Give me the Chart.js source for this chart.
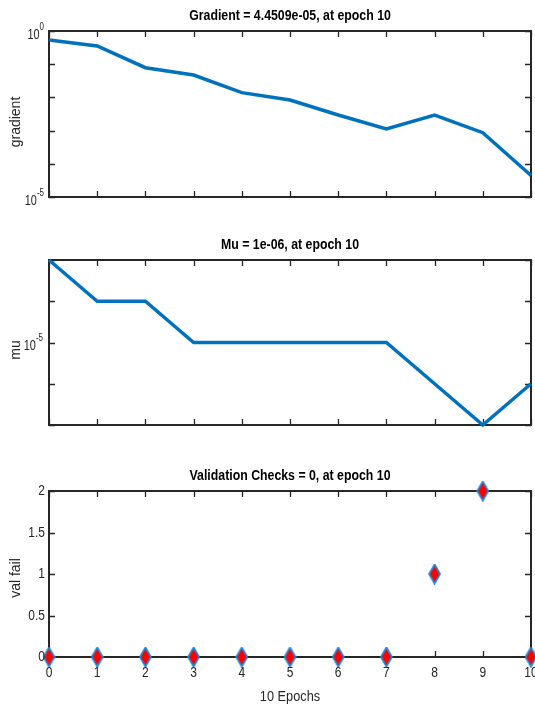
<!DOCTYPE html>
<html>
<head>
<meta charset="utf-8">
<script src="https://cdn.jsdelivr.net/npm/chart.js@4.4.0/dist/chart.umd.min.js"></script>
<style>
  html, body { margin: 0; padding: 0; background: #fff; overflow: hidden; }
  #wrap { position: relative; width: 535px; height: 711px; }
  canvas { position: absolute; left: 0; }
</style>
</head>
<body>
<div id="wrap">
  <canvas id="c1" width="535" height="215" style="top:0px"></canvas>
  <canvas id="c2" width="535" height="225" style="top:215px"></canvas>
  <canvas id="c3" width="535" height="271" style="top:440px"></canvas>
</div>
<script>
// training record
const epochs = [0, 1, 2, 3, 4, 5, 6, 7, 8, 9, 10];
const gradient = [0.536, 0.353, 0.0785, 0.0473, 0.0139, 0.00835, 0.00295, 0.00112, 0.00295, 0.000865, 4.4509e-5];
const mu = [1e-3, 1e-4, 1e-4, 1e-5, 1e-5, 1e-5, 1e-5, 1e-5, 1e-6, 1e-7, 1e-6];
const valFail = [0, 0, 0, 0, 0, 0, 0, 0, 1, 2, 0];

const xTicks = [0, 1, 2, 3, 4, 5, 6, 7, 8, 9, 10];
const gradTicks = [1e-5, 1e-4, 1e-3, 1e-2, 1e-1, 1];
const gradLabels = [1e-5, 1];
const muTicks = [1e-7, 1e-6, 1e-5, 1e-4, 1e-3];
const muLabels = [1e-5];
const valTicks = [0, 0.5, 1, 1.5, 2];

const BLUE = '#0072BD';
const AXIS = '#262626';
const SANS = '"Liberation Sans", Arial, sans-serif';

// no narrow font installed, so squeeze the text sideways like matlab's helvetica
function txt(ctx, s, x, y, font, align, sx, color) {
  ctx.save();
  ctx.fillStyle = color || AXIS;
  ctx.font = font;
  ctx.textAlign = align;
  ctx.textBaseline = 'middle';
  ctx.translate(x, y);
  ctx.scale(sx, 1);
  ctx.fillText(s, 0, 0);
  ctx.restore();
}

function drawPow(ctx, exp, xRight, y) {
  ctx.font = '10px ' + SANS;
  const sw = ctx.measureText(exp).width * 0.8;
  txt(ctx, exp, xRight, y - 4, '10px ' + SANS, 'right', 0.8);
  txt(ctx, '10', xRight - sw, y + 4, '14px ' + SANS, 'right', 0.78);
}

// tall diamond marker like matlab's 'diamond'
function diamond() {
  const c = document.createElement('canvas');
  c.width = 13; c.height = 21;
  const g = c.getContext('2d');
  g.beginPath();
  g.moveTo(6.5, 1); g.lineTo(12, 10.5); g.lineTo(6.5, 20); g.lineTo(1, 10.5); g.closePath();
  g.fillStyle = '#ff0000';
  g.fill();
  g.lineWidth = 1.8;
  g.strokeStyle = '#1f86d3';
  g.stroke();
  return c;
}

// box, inward ticks, titles and labels
const matlabAxes = {
  id: 'matlabAxes',
  beforeDatasetsDraw(chart, args, o) {
    const ctx = chart.ctx;
    const a = chart.chartArea;
    const xs = chart.scales.x, ys = chart.scales.y;
    ctx.save();
    ctx.strokeStyle = AXIS;
    ctx.lineWidth = 1.3;
    ctx.beginPath();
    xTicks.forEach(v => {
      const px = Math.round(xs.getPixelForValue(v)) + 0.5;
      ctx.moveTo(px, a.top); ctx.lineTo(px, a.top + 6);
      ctx.moveTo(px, a.bottom); ctx.lineTo(px, a.bottom - 6);
    });
    o.yTicks.forEach(v => {
      const py = Math.round(ys.getPixelForValue(v)) + 0.5;
      ctx.moveTo(a.left, py); ctx.lineTo(a.left + 6, py);
      ctx.moveTo(a.right, py); ctx.lineTo(a.right - 6, py);
    });
    ctx.stroke();
    ctx.lineWidth = 2;
    ctx.strokeRect(a.left, a.top, a.right - a.left, a.bottom - a.top);
    ctx.restore();
  },
  afterDraw(chart, args, o) {
    const ctx = chart.ctx;
    const a = chart.chartArea;
    const xs = chart.scales.x, ys = chart.scales.y;

    txt(ctx, o.title, (a.left + a.right) / 2, a.top - 15, 'bold 14px ' + SANS, 'center', 0.88, '#000');

    (o.powLabels || []).forEach(v => {
      drawPow(ctx, String(Math.round(Math.log10(v))), o.powRight, ys.getPixelForValue(v));
    });
    (o.yLabels || []).forEach(v => {
      txt(ctx, String(v), 45, ys.getPixelForValue(v), '15px ' + SANS, 'right', 0.8);
    });
    if (o.xLabels) {
      xTicks.forEach(v => {
        txt(ctx, String(v), xs.getPixelForValue(v), a.bottom + 16, '15px ' + SANS, 'center', 0.8);
      });
    }

    ctx.save();
    ctx.fillStyle = AXIS;
    ctx.font = '14px ' + SANS;
    ctx.translate(20, o.ylabelY);
    ctx.rotate(-Math.PI / 2);
    ctx.textAlign = 'center';
    ctx.textBaseline = 'alphabetic';
    ctx.fillText(o.ylabel, 0, 0);
    ctx.restore();

    if (o.xlabel) {
      txt(ctx, o.xlabel, (a.left + a.right) / 2, o.xlabelY, '15px ' + SANS, 'center', 0.85);
    }
  }
};

function makeChart(id, cfg) {
  const canvas = document.getElementById(id);
  const H = canvas.height;
  return new Chart(canvas.getContext('2d'), {
    type: 'line',
    data: {
      datasets: [{
        data: epochs.map((e, i) => ({ x: e, y: cfg.values[i] })),
        borderColor: BLUE,
        borderWidth: cfg.marker ? 0 : 3.5,
        showLine: !cfg.marker,
        pointStyle: cfg.marker ? diamond() : 'circle',
        pointRadius: cfg.marker ? 10 : 0,
        pointHoverRadius: cfg.marker ? 10 : 0,
        tension: 0,
        clip: false
      }]
    },
    options: {
      responsive: false,
      animation: false,
      devicePixelRatio: 1,
      events: [],
      layout: { autoPadding: false, padding: { top: cfg.top, right: 4, left: 0, bottom: 0 } },
      plugins: {
        legend: { display: false },
        tooltip: { enabled: false },
        matlabAxes: cfg.axes
      },
      scales: {
        x: {
          type: 'linear', min: 0, max: 10,
          grid: { display: false, drawTicks: false },
          border: { display: false },
          ticks: { display: false },
          afterFit: s => { s.height = H - cfg.bottom; }
        },
        y: Object.assign({
          grid: { display: false, drawTicks: false },
          border: { display: false },
          ticks: { display: false },
          afterFit: s => { s.width = 49; }
        }, cfg.y)
      }
    },
    plugins: [matlabAxes]
  });
}

makeChart('c1', {
  values: gradient, top: 31, bottom: 197,
  y: { type: 'logarithmic', min: 1e-5, max: 1 },
  axes: { title: 'Gradient = 4.4509e-05, at epoch 10', ylabel: 'gradient', ylabelY: 122,
          yTicks: gradTicks, powLabels: gradLabels, powRight: 44 }
});

makeChart('c2', {
  values: mu, top: 260 - 215, bottom: 425 - 215,
  y: { type: 'logarithmic', min: 1e-7, max: 1e-3 },
  axes: { title: 'Mu = 1e-06, at epoch 10', ylabel: 'mu', ylabelY: 350 - 215,
          yTicks: muTicks, powLabels: muLabels, powRight: 43 }
});

makeChart('c3', {
  values: valFail, top: 491 - 440, bottom: 657 - 440, marker: true,
  y: { type: 'linear', min: 0, max: 2 },
  axes: { title: 'Validation Checks = 0, at epoch 10', ylabel: 'val fail', ylabelY: 578 - 440,
          yTicks: valTicks, yLabels: valTicks, xLabels: true,
          xlabel: '10 Epochs', xlabelY: 697 - 440 }
});
</script>
</body>
</html>
